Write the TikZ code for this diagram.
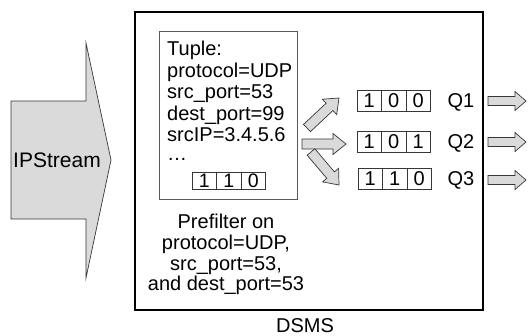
\documentclass[tikz,border=0pt]{standalone}
\usepackage{fontspec}
\setmainfont{Liberation Sans}
\usetikzlibrary{calc}
\definecolor{afill}{RGB}{218,218,218}
\definecolor{aline}{RGB}{55,55,55}
\newcommand\blockarr[5]{%
  \coordinate (#1h) at ($(#2)!#5!(#1)$);
  \draw[blockarrow] ($(#1)!#3!90:(#2)$) -- ($(#1h)!#3!90:(#2)$) -- ($(#1h)!#4!90:(#2)$) -- (#2)
    -- ($(#1h)!#4!-90:(#2)$) -- ($(#1h)!#3!-90:(#2)$) -- ($(#1)!#3!-90:(#2)$) -- cycle;
}
\tikzset{
  blockarrow/.style={fill=afill, draw=aline, line width=0.7pt, line join=miter},
  txt/.style={font=\fontsize{20}{22}\selectfont, inner sep=0pt},
  cell/.style={draw=aline, line width=0.7pt, minimum width=24.5pt, minimum height=21pt, inner sep=0pt, font=\fontsize{20}{22}\selectfont},
  smallcell/.style={cell, minimum height=16.5pt, font=\fontsize{19.5}{21}\selectfont},
}
\begin{document}
\begin{tikzpicture}[x=1pt,y=-1pt]
\useasboundingbox (0,0) rectangle (530,335);
% big input arrow
\draw[blockarrow] (11,101) -- (86,101) -- (86,43) -- (111,160) -- (86,278) -- (86,219) -- (11,219) -- cycle;
\node[txt, font=\fontsize{21}{23}\selectfont, anchor=base] (ipstream) at (57,167.5) {IPStream};
% DSMS box
\draw[black, line width=1.2pt] (135,12) rectangle (483,310);
\node[txt, anchor=base] (dsms) at (305,332) {DSMS};
% tuple box
\draw[draw=black!65, line width=0.8pt] (159,31) rectangle (297,199);
\node[txt, anchor=base west] (t1) at (167,55) {Tuple:};
\node[txt, anchor=base west] (t2) at (167,77) {protocol=UDP};
\node[txt, anchor=base west] (t3) at (167,98) {src\_port=53};
\node[txt, anchor=base west] (t4) at (167,120) {dest\_port=99};
\node[txt, anchor=base west] (t5) at (167,141) {srcIP=3.4.5.6};
\node[txt, anchor=base west] (t6) at (167,160) {…};
\node[smallcell] (ta) at (204.25,181) {1};
\node[smallcell] (tb) at (228.75,181) {1};
\node[smallcell] (tc) at (253.25,181) {0};
% prefilter text
\node[txt, anchor=base] (p1) at (226,228) {Prefilter on};
\node[txt, anchor=base] (p2) at (226,249) {protocol=UDP,};
\node[txt, anchor=base] (p3) at (226,270) {src\_port=53,};
\node[txt, anchor=base] (p4) at (226,290) {and dest\_port=53};
% queues
\node[cell] (q1a) at (369.25,100.5) {1};
\node[cell] (q1b) at (393.75,100.5) {0};
\node[cell] (q1c) at (418.25,100.5) {0};
\node[cell] (q2a) at (369.25,141.5) {1};
\node[cell] (q2b) at (393.75,141.5) {0};
\node[cell] (q2c) at (418.25,141.5) {1};
\node[cell] (q3a) at (370.25,178.5) {1};
\node[cell] (q3b) at (394.75,178.5) {1};
\node[cell] (q3c) at (419.25,178.5) {0};
\node[txt, anchor=base] (q1) at (461,107.5) {Q1};
\node[txt, anchor=base] (q2) at (461,148.5) {Q2};
\node[txt, anchor=base] (q3) at (461,185.5) {Q3};
% internal arrows
\coordinate (ua) at (307,128); \coordinate (ub) at (339,98);
\coordinate (ma) at (302,144); \coordinate (mb) at (346,144);
\coordinate (la) at (311,152); \coordinate (lb) at (339,185);
\blockarr{ua}{ub}{5pt}{10.5pt}{13pt}
\blockarr{ma}{mb}{5pt}{10.5pt}{13pt}
\blockarr{la}{lb}{5pt}{10.5pt}{13pt}
% output arrows
\coordinate (o1a) at (488,101); \coordinate (o1b) at (526,101);
\coordinate (o2a) at (488,142); \coordinate (o2b) at (526,142);
\coordinate (o3a) at (488,180); \coordinate (o3b) at (526,180);
\blockarr{o1a}{o1b}{4.5pt}{9.5pt}{11pt}
\blockarr{o2a}{o2b}{4.5pt}{9.5pt}{11pt}
\blockarr{o3a}{o3b}{4.5pt}{9.5pt}{11pt}
\end{tikzpicture}
\end{document}
